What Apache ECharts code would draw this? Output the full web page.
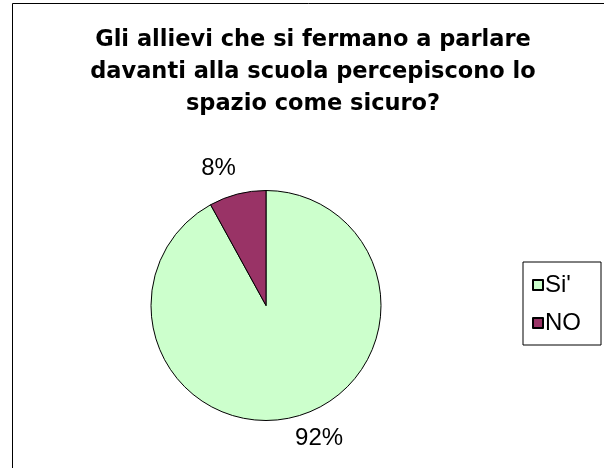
<!DOCTYPE html>
<html>
<head>
<meta charset="utf-8">
<script src="https://cdn.jsdelivr.net/npm/echarts@6/dist/echarts.min.js"></script>
<style>
html,body{margin:0;padding:0;background:#fff;}
#c{width:604px;height:468px;}
</style>
</head>
<body>
<div id="c"></div>
<script>
var titleText = "Gli allievi che si fermano a parlare\ndavanti alla scuola percepiscono lo\nspazio come sicuro?";
var categories = ["Si'", "NO"];
var values = [92, 8];
var colors = ["#CCFFCC", "#993366"];

var chart = echarts.init(document.getElementById('c'), null, {renderer: 'canvas'});
var data = categories.map(function (n, i) {
  return {name: n, value: values[i], itemStyle: {color: colors[i]}};
});
var labelShift = [[-8, 8], [7, -12]];
chart.setOption({
  animation: false,
  backgroundColor: '#fff',
  graphic: [{
    type: 'rect',
    shape: {x: 12.5, y: 3.5, width: 700, height: 600},
    style: {fill: 'none', stroke: '#000', lineWidth: 1},
    silent: true
  }],
  title: {
    text: titleText,
    left: 308,
    top: 19,
    textAlign: 'center',
    textStyle: {
      fontFamily: 'DejaVu Sans',
      fontWeight: 'bold',
      fontSize: 22.5,
      lineHeight: 32,
      color: '#000'
    }
  },
  legend: {
    orient: 'vertical',
    left: 523,
    top: 262,
    icon: 'rect',
    itemWidth: 10,
    itemHeight: 10,
    itemGap: 14,
    padding: [11, 20, 10, 9],
    borderColor: '#000',
    borderWidth: 1,
    textStyle: {fontFamily: 'Liberation Sans, Arial', fontSize: 24, lineHeight: 24, color: '#000', padding: [0, 0, 0, -3]},
    data: categories
  },
  series: [{
    type: 'pie',
    center: [266, 305.5],
    radius: 115,
    startAngle: 90,
    clockwise: true,
    silent: true,
    itemStyle: {borderColor: '#000', borderWidth: 1},
    label: {
      show: true,
      position: 'outside',
      formatter: function (p) { return Math.round(p.percent) + '%'; },
      fontFamily: 'Liberation Sans, Arial',
      fontSize: 24,
      color: '#000'
    },
    labelLine: {show: false, length: 14, length2: 0},
    labelLayout: function (p) {
      var s = labelShift[p.dataIndex];
      return {dx: s[0], dy: s[1]};
    },
    data: data
  }]
});
</script>
</body>
</html>
